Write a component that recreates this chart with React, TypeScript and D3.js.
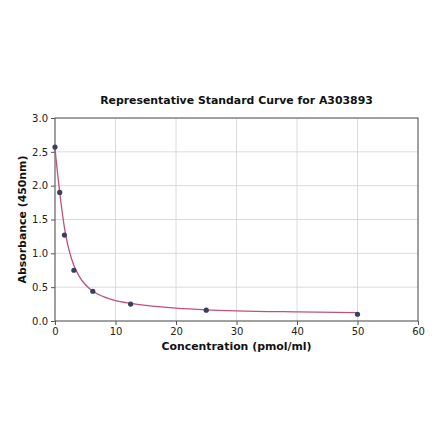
import * as d3 from "d3";
import { useEffect, useRef } from "react";

const concentrations = [0, 0.78, 1.56, 3.125, 6.25, 12.5, 25, 50];
const absorbances = [2.57, 1.9, 1.27, 0.75, 0.44, 0.25, 0.16, 0.1];

// fitted curve
const curveX = [0, 0.25, 0.5, 0.78, 1, 1.25, 1.56, 2, 2.5, 3.125, 4, 5, 6.25, 8, 10, 12.5, 15, 20, 25, 30, 40, 50];
const curveY = [2.55, 2.33, 2.12, 1.9, 1.74, 1.57, 1.38, 1.17, 0.99, 0.82, 0.66, 0.54, 0.44, 0.36, 0.3, 0.26, 0.23, 0.19, 0.165, 0.15, 0.135, 0.125];

const xTicks = [0, 10, 20, 30, 40, 50, 60];
const yTicks = [0, 0.5, 1, 1.5, 2, 2.5, 3];

export default function App() {
  const ref = useRef<SVGSVGElement>(null);

  useEffect(() => {
    if (!ref.current) return;
    const svg = d3.select(ref.current);
    svg.selectAll("*").remove();

    const margin = { top: 118, right: 22, bottom: 120, left: 55 };
    const W = 440;
    const H = 441;
    const w = W - margin.left - margin.right;
    const h = H - margin.top - margin.bottom;
    const font = "DejaVu Sans, sans-serif";

    const x = d3.scaleLinear().domain([0, 60]).range([0, w]);
    const y = d3.scaleLinear().domain([0, 3]).range([h, 0]);

    svg.append("rect").attr("width", W).attr("height", H).attr("fill", "#fff");

    const g = svg.append("g").attr("transform", `translate(${margin.left},${margin.top})`);

    // grid
    g.append("g")
      .selectAll("line")
      .data(xTicks)
      .join("line")
      .attr("x1", d => x(d))
      .attr("x2", d => x(d))
      .attr("y1", 0)
      .attr("y2", h)
      .attr("stroke", "#d3d3d3")
      .attr("stroke-width", 0.8);
    g.append("g")
      .selectAll("line")
      .data(yTicks)
      .join("line")
      .attr("x1", 0)
      .attr("x2", w)
      .attr("y1", d => y(d))
      .attr("y2", d => y(d))
      .attr("stroke", "#d3d3d3")
      .attr("stroke-width", 0.8);

    // frame
    g.append("rect")
      .attr("width", w)
      .attr("height", h)
      .attr("fill", "none")
      .attr("stroke", "#555")
      .attr("stroke-width", 1);

    // axes
    g.append("g")
      .attr("transform", `translate(0,${h})`)
      .call(d3.axisBottom(x).tickValues(xTicks).tickSize(4).tickFormat(d3.format("d")))
      .call(a => a.select(".domain").remove())
      .call(a => a.selectAll("line").attr("stroke", "#555"))
      .call(a => a.selectAll("text").attr("font-family", font).attr("font-size", 10).attr("fill", "#222"));

    g.append("g")
      .call(d3.axisLeft(y).tickValues(yTicks).tickSize(4).tickFormat(d3.format(".1f")))
      .call(a => a.select(".domain").remove())
      .call(a => a.selectAll("line").attr("stroke", "#555"))
      .call(a => a.selectAll("text").attr("font-family", font).attr("font-size", 10).attr("fill", "#222"));

    // fitted curve
    const line = d3
      .line<number>()
      .x((_, i) => x(curveX[i]))
      .y(d => y(d))
      .curve(d3.curveMonotoneX);
    g.append("path")
      .attr("d", line(curveY))
      .attr("fill", "none")
      .attr("stroke", "#c0507a")
      .attr("stroke-width", 1.3);

    // points
    g.selectAll(".pt")
      .data(absorbances)
      .join("circle")
      .attr("class", "pt")
      .attr("cx", (_, i) => x(concentrations[i]))
      .attr("cy", d => y(d))
      .attr("r", 2.6)
      .attr("fill", "#3b3f5e");

    // title and labels
    svg.append("text")
      .attr("x", margin.left + w / 2)
      .attr("y", 104)
      .attr("text-anchor", "middle")
      .attr("font-family", font)
      .attr("font-size", 10.9)
      .attr("font-weight", "bold")
      .attr("fill", "#111")
      .text("Representative Standard Curve for A303893");

    svg.append("text")
      .attr("x", margin.left + w / 2)
      .attr("y", 350)
      .attr("text-anchor", "middle")
      .attr("font-family", font)
      .attr("font-size", 10.9)
      .attr("font-weight", "bold")
      .attr("fill", "#111")
      .text("Concentration (pmol/ml)");

    svg.append("text")
      .attr("transform", `translate(26,${margin.top + h / 2}) rotate(-90)`)
      .attr("text-anchor", "middle")
      .attr("font-family", font)
      .attr("font-size", 10.9)
      .attr("font-weight", "bold")
      .attr("fill", "#111")
      .text("Absorbance (450nm)");
  }, []);

  return (
    <svg
      ref={ref}
      width={440}
      height={441}
      style={{ position: "absolute", top: 0, left: 0, display: "block" }}
    />
  );
}
